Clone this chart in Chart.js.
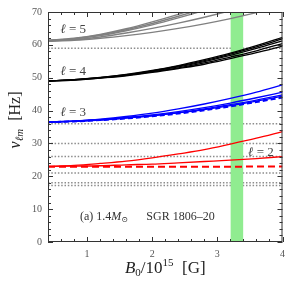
<!DOCTYPE html>
<html>
<head>
<meta charset="utf-8">
<script src="https://cdn.jsdelivr.net/npm/chart.js@4/dist/chart.umd.min.js"></script>
<style>
html, body { margin: 0; padding: 0; background: #fff; }
#wrap { width: 291px; height: 291px; }
</style>
</head>
<body>
<div id="wrap"><canvas id="chart"></canvas></div>
<script>
// ---------------------------------------------------------------------------
// Data: torsional mode frequencies vs. field strength (B0 / 10^15 G)
// ---------------------------------------------------------------------------

const bField = [0.4, 0.8, 1.2, 1.6, 2.0, 2.4, 2.8, 3.2, 3.6, 4.0];

// l = 5 (gray)
const l5a = [61.4, 62.0, 63.2, 64.9, 67.0, 69.3, 71.8, 74.5, 77.4, 80.5];
const l5b = [61.3, 61.9, 63.0, 64.6, 66.5, 68.7, 71.1, 73.7, 76.5, 79.5];
const l5c = [61.3, 61.8, 62.8, 64.3, 66.1, 68.2, 70.5, 73.0, 75.7, 78.6];
const l5d = [61.2, 61.6, 62.4, 63.6, 65.0, 66.6, 68.4, 70.4, 72.6, 75.0];
const l5e = [61.1, 61.4, 62.0, 62.8, 63.8, 65.0, 66.4, 68.0, 69.8, 71.8];

// l = 4 (black)
const l4a = [49.0, 49.4, 50.1, 51.0, 52.2, 53.7, 55.5, 57.5, 59.8, 62.3];
const l4b = [49.0, 49.4, 50.0, 50.9, 52.1, 53.5, 55.2, 57.2, 59.4, 61.8];
const l4c = [49.0, 49.4, 50.0, 50.8, 52.0, 53.3, 54.9, 56.8, 58.9, 61.2];
const l4d = [49.0, 49.3, 49.9, 50.7, 51.8, 53.0, 54.5, 56.3, 58.2, 60.4];
const l4e = [49.0, 49.3, 49.9, 50.6, 51.6, 52.8, 54.1, 55.8, 57.6, 59.6];

// l = 3 (blue)
const l3a = [36.5, 36.8, 37.4, 38.2, 39.2, 40.5, 42.0, 43.7, 45.6, 47.8];
const l3b = [36.5, 36.8, 37.2, 37.9, 38.7, 39.7, 40.9, 42.3, 43.9, 45.6];
const l3c = [36.5, 36.8, 37.2, 37.8, 38.5, 39.4, 40.5, 41.8, 43.2, 44.8];
const l3d = [36.5, 36.7, 37.1, 37.7, 38.4, 39.3, 40.3, 41.5, 42.9, 44.4];
const l3dash = [36.5, 36.7, 37.1, 37.6, 38.3, 39.1, 40.1, 41.3, 42.6, 44.0];

// l = 2 (red)
const l2a = [23.0, 23.3, 23.9, 24.6, 25.6, 26.8, 28.1, 29.8, 31.6, 33.6];
const l2b = [23.0, 23.1, 23.2, 23.5, 23.7, 24.1, 24.5, 24.9, 25.4, 26.0];
const l2dash = [22.9, 22.9, 22.9, 22.9, 22.9, 22.9, 22.9, 22.9, 23.0, 23.0];

// observed QPO frequencies (dotted) and the SGR 1806-20 field range
const qpoLevels = [59, 36, 30, 26, 21, 18, 17.2];
const sgrBand = [3.2, 3.4];

const xTicks = [1, 2, 3, 4];
const yTicks = [0, 10, 20, 30, 40, 50, 60, 70];
const xRange = [0.4, 4];
const yRange = [0, 70];

// ---------------------------------------------------------------------------

function pts(ys) {
    return bField.map((b, i) => ({ x: b, y: ys[i] }));
}

function curve(ys, color, opts) {
    return Object.assign({
        data: pts(ys),
        borderColor: color,
        borderWidth: 1.3,
        pointRadius: 0,
        cubicInterpolationMode: 'monotone',
        fill: false,
        clip: 0,
        order: 1,
    }, opts || {});
}

const datasets = [];

qpoLevels.forEach(v => {
    datasets.push({
        data: [{ x: xRange[0], y: v }, { x: xRange[1], y: v }],
        borderColor: '#8c8c8c',
        borderWidth: 1.5,
        borderDash: [1.5, 1.8],
        pointRadius: 0,
        fill: false,
        clip: 0,
        order: 10,
    });
});

// green band: a flat segment at the top, filled down to zero
datasets.push({
    data: [{ x: sgrBand[0], y: yRange[1] }, { x: sgrBand[1], y: yRange[1] }],
    borderWidth: 0,
    borderColor: 'rgba(0,0,0,0)',
    backgroundColor: '#90ec90',
    pointRadius: 0,
    fill: 'origin',
    clip: 0,
    order: 5,
});

[l5a, l5b, l5c, l5d, l5e].forEach(ys => datasets.push(curve(ys, '#808080', { borderWidth: 1.4 })));
[l4a, l4b, l4c, l4d, l4e].forEach(ys => datasets.push(curve(ys, '#000000')));
[l3a, l3b, l3c, l3d].forEach(ys => datasets.push(curve(ys, '#0000ff')));
datasets.push(curve(l3dash, '#0000ff', { borderWidth: 2, borderDash: [5, 3] }));
[l2a, l2b].forEach(ys => datasets.push(curve(ys, '#ff0000')));
datasets.push(curve(l2dash, '#ff0000', { borderWidth: 2, borderDash: [7, 4] }));

// draw a run of text pieces left to right
function drawRuns(ctx, x, y, runs) {
    runs.forEach(r => {
        ctx.font = r.font;
        ctx.fillText(r.t, x, y + (r.dy || 0));
        x += ctx.measureText(r.t).width;
    });
}

function runsWidth(ctx, runs) {
    let w = 0;
    runs.forEach(r => { ctx.font = r.font; w += ctx.measureText(r.t).width; });
    return w;
}

const SERIF = '"Liberation Serif", "DejaVu Serif", serif';

// inward ticks on all four sides + box
const framePlugin = {
    id: 'frame',
    afterDatasetsDraw(chart) {
        const { ctx, chartArea: a, scales: { x, y } } = chart;
        ctx.save();
        ctx.strokeStyle = '#333';
        ctx.lineWidth = 1;
        ctx.strokeRect(a.left + 0.5, a.top + 0.5, a.right - a.left - 1, a.bottom - a.top - 1);
        ctx.beginPath();
        for (let i = 2; i <= 20; i++) {
            const px = Math.round(x.getPixelForValue(i / 5)) + 0.5;
            const len = i % 5 === 0 ? 5 : 3;
            ctx.moveTo(px, a.bottom); ctx.lineTo(px, a.bottom - len);
            ctx.moveTo(px, a.top); ctx.lineTo(px, a.top + len);
        }
        for (let v = 0; v <= 70; v += 2) {
            const py = Math.round(y.getPixelForValue(v)) + 0.5;
            const len = v % 10 === 0 ? 5 : 3;
            ctx.moveTo(a.left, py); ctx.lineTo(a.left + len, py);
            ctx.moveTo(a.right, py); ctx.lineTo(a.right - len, py);
        }
        ctx.stroke();
        ctx.restore();
    },
    afterDraw(chart) {
        const { ctx, chartArea: a, scales: { x, y } } = chart;
        ctx.save();
        ctx.textBaseline = 'alphabetic';

        // branch labels
        ctx.fillStyle = '#444';
        const ell = n => [
            { t: 'ℓ', font: 'italic 13px ' + SERIF },
            { t: ' = ' + n, font: '13px ' + SERIF },
        ];
        drawRuns(ctx, x.getPixelForValue(0.59), y.getPixelForValue(63.6), ell(5));
        drawRuns(ctx, x.getPixelForValue(0.59), y.getPixelForValue(50.9), ell(4));
        drawRuns(ctx, x.getPixelForValue(0.59), y.getPixelForValue(38.2), ell(3));
        drawRuns(ctx, x.getPixelForValue(3.47), y.getPixelForValue(26.1), ell(2));

        ctx.fillStyle = '#333';
        drawRuns(ctx, x.getPixelForValue(0.89), y.getPixelForValue(6.6), [
            { t: '(a) 1.4', font: '12px ' + SERIF },
            { t: 'M', font: 'italic 12px ' + SERIF },
            { t: '⊙', font: '8px ' + SERIF, dy: 2 },
        ]);
        drawRuns(ctx, x.getPixelForValue(1.91), y.getPixelForValue(6.7), [
            { t: 'SGR 1806–20', font: '12px ' + SERIF },
        ]);

        // x axis title
        ctx.fillStyle = '#222';
        const xt = [
            { t: 'B', font: 'italic 17px ' + SERIF },
            { t: '0', font: '11px ' + SERIF, dy: 3 },
            { t: '/10', font: '17px ' + SERIF },
            { t: '15', font: '11px ' + SERIF, dy: -7 },
            { t: '  [G]', font: '17px ' + SERIF },
        ];
        const cx = (a.left + a.right) / 2;
        drawRuns(ctx, cx - runsWidth(ctx, xt) / 2, 273, xt);

        // y axis title (rotated)
        const yt = [
            { t: 'ν', font: 'italic 16px ' + SERIF },
            { t: 'ℓm', font: 'italic 11px ' + SERIF, dy: 3 },
            { t: '  [Hz]', font: '16px ' + SERIF },
        ];
        ctx.translate(20, 120);
        ctx.rotate(-Math.PI / 2);
        drawRuns(ctx, -runsWidth(ctx, yt) / 2, 0, yt);
        ctx.restore();
    }
};

new Chart(document.getElementById('chart'), {
    type: 'line',
    data: { datasets },
    options: {
        responsive: true,
        maintainAspectRatio: false,
        animation: false,
        events: [],
        layout: { padding: { top: 5, right: 6, left: 0, bottom: 0 } },
        plugins: { legend: { display: false }, tooltip: { enabled: false } },
        scales: {
            x: {
                type: 'linear',
                min: xRange[0],
                max: xRange[1],
                grid: { display: false, drawTicks: false },
                border: { display: false },
                afterBuildTicks: s => { s.ticks = xTicks.map(v => ({ value: v })); },
                afterFit: s => { s.height = 49; },
                ticks: {
                    color: '#555',
                    padding: 6,
                    maxRotation: 0,
                    font: { family: SERIF, size: 10 },
                    callback: v => String(v),
                },
            },
            y: {
                type: 'linear',
                min: yRange[0],
                max: yRange[1],
                grid: { display: false, drawTicks: false },
                border: { display: false },
                afterBuildTicks: s => { s.ticks = yTicks.map(v => ({ value: v })); },
                afterFit: s => { s.width = 48; },
                ticks: {
                    color: '#555',
                    padding: 6,
                    font: { family: SERIF, size: 10 },
                    callback: v => String(v),
                },
            },
        },
    },
    plugins: [framePlugin],
});
</script>
</body>
</html>
